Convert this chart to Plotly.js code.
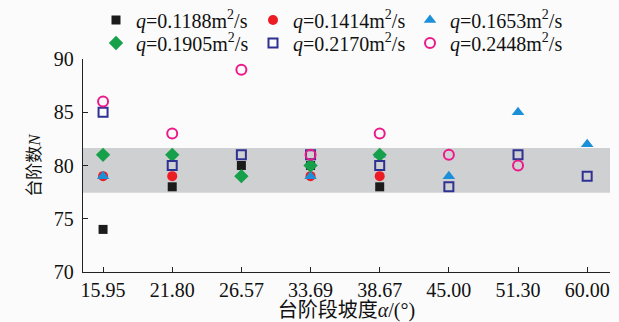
<!DOCTYPE html>
<html>
<head>
<meta charset="utf-8">
<script src="https://cdn.plot.ly/plotly-3.0.1.min.js"></script>
<style>html,body{margin:0;padding:0;background:#fbfbfb;}#chart{width:619px;height:322px;}</style>
</head>
<body>
<div id="chart"></div>
<script>
const categories = ["15.95","21.80","26.57","33.69","38.67","45.00","51.30","60.00"];
const seriesNames = [
  "<i>q</i>=0.1188m<sup>2</sup>/s",
  "<i>q</i>=0.1414m<sup>2</sup>/s",
  "<i>q</i>=0.1653m<sup>2</sup>/s",
  "<i>q</i>=0.1905m<sup>2</sup>/s",
  "<i>q</i>=0.2170m<sup>2</sup>/s",
  "<i>q</i>=0.2448m<sup>2</sup>/s"
];
const q1188 = [74, 78, 80, 80, 78, null, null, null];
const q1414 = [79, 79, null, 79, 79, null, null, null];
const q1653 = [79, null, null, 79, 81, 79, 85, 82];
const q1905 = [81, 81, 79, 80, 81, null, null, null];
const q2170 = [85, 80, 81, 81, 80, 78, 81, 79];
const q2448 = [86, 83, 89, 81, 83, 81, 80, null];
const bandRange = [77.45, 81.65];
const yTicks = [70, 75, 80, 85, 90];

const styles = [
  {symbol:"square", color:"#1b1b1b", size:9, lw:0},
  {symbol:"circle", color:"#ec1c24", size:10, lw:0},
  {symbol:"triangle-up", color:"#1b8fd8", size:11, lw:0},
  {symbol:"diamond", color:"#17a04a", size:11, lw:0},
  {symbol:"square-open", color:"#2e3192", size:9, lw:2},
  {symbol:"circle-open", color:"#ec198a", size:10, lw:2}
];
const values = [q1188, q1414, q1653, q1905, q2170, q2448];
const traces = values.map((v, i) => ({
  type: "scatter", mode: "markers", x: categories, y: v, name: seriesNames[i],
  legend: i < 3 ? "legend" : "legend2",
  marker: {symbol: styles[i].symbol, color: styles[i].color, size: styles[i].size,
           line: {width: styles[i].lw, color: styles[i].color}}
}));

const serif = "Liberation Serif, Times New Roman, serif";
const fs = 20;
const legendCommon = {orientation: "h", xref: "container", yref: "container", xanchor: "left", yanchor: "middle",
  entrywidth: 112, entrywidthmode: "pixels", font: {family: serif, size: fs, color: "#111"},
  bgcolor: "rgba(0,0,0,0)", borderwidth: 0, itemwidth: 30};
const layout = {
  width: 619, height: 322,
  margin: {l: 83, r: 9, t: 59, b: 50, autoexpand: false},
  paper_bgcolor: "#fbfbfb", plot_bgcolor: "#fbfbfb",
  font: {family: serif, size: fs, color: "#111"},
  showlegend: true,
  legend: Object.assign({}, legendCommon, {x: 96/619, y: 1 - 20/322}),
  legend2: Object.assign({}, legendCommon, {x: 96/619, y: 1 - 43/322}),
  xaxis: {type: "category", range: [-0.29, 7.33], showline: true, linecolor: "#222", linewidth: 1.2,
          ticks: "inside", ticklen: 5, tickcolor: "#222", showgrid: false, zeroline: false,
          tickfont: {family: serif, size: fs, color: "#111"},
          title: {text: "台阶段坡度<i>α</i>/(°)", standoff: 2,
                  font: {family: "Liberation Serif, Noto Sans CJK SC, serif", size: fs, color: "#111"}}},
  yaxis: {range: [70, 90], tickvals: yTicks, showline: true, linecolor: "#222", linewidth: 1.2,
          ticks: "inside", ticklen: 5, tickcolor: "#222", showgrid: false, zeroline: false,
          ticklabelstandoff: 4,
          tickfont: {family: serif, size: fs, color: "#111"},
          title: {text: "台阶数<i>N</i>", standoff: 8,
                  font: {family: "Liberation Serif, Noto Sans CJK SC, serif", size: 17, color: "#111"}}},
  shapes: [{type: "rect", xref: "paper", yref: "y", x0: 0, x1: 1, y0: bandRange[0], y1: bandRange[1],
            fillcolor: "#cfd0d2", line: {width: 0}, layer: "below"}]
};
Plotly.newPlot("chart", traces, layout, {staticPlot: true, displayModeBar: false});
</script>
</body>
</html>
